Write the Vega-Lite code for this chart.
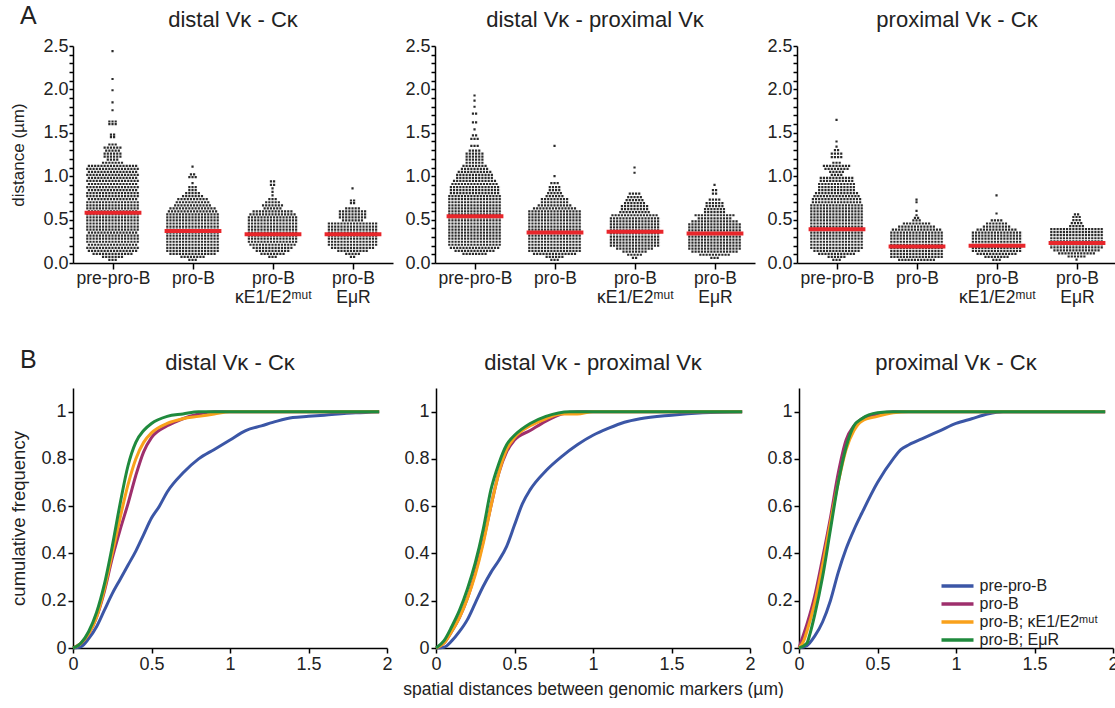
{
  "$schema": "https://vega.github.io/schema/vega-lite/v6.json",
  "padding": {"left": 9, "top": 4, "right": 0, "bottom": 0},
  "config": {
    "font": "Liberation Sans",
    "view": {"stroke": null},
    "axis": {"grid": false, "domainColor": "#000", "tickColor": "#000", "labelColor": "#222", "titleColor": "#222", "titleFontWeight": "normal", "labelFlush": false, "labelOverlap": false, "domainWidth": 1.5, "tickWidth": 1.5},
    "title": {"fontWeight": "normal", "color": "#222", "fontSize": 22},
    "legend": {"padding": 0}
  },
  "datasets": {
    "s1": [
      {"g":1,"d":0.035,"n":3},{"g":1,"d":0.07,"n":7},{"g":1,"d":0.105,"n":13},{"g":1,"d":0.14,"n":16},{"g":1,"d":0.175,"n":17},{"g":1,"d":0.21,"n":16},{"g":1,"d":0.245,"n":17},{"g":1,"d":0.28,"n":17},{"g":1,"d":0.315,"n":17},{"g":1,"d":0.35,"n":16},{"g":1,"d":0.385,"n":17},{"g":1,"d":0.42,"n":17},{"g":1,"d":0.455,"n":17},{"g":1,"d":0.49,"n":17},{"g":1,"d":0.525,"n":17},{"g":1,"d":0.56,"n":17},{"g":1,"d":0.595,"n":16},{"g":1,"d":0.63,"n":17},{"g":1,"d":0.665,"n":17},{"g":1,"d":0.7,"n":17},{"g":1,"d":0.735,"n":16},{"g":1,"d":0.77,"n":17},{"g":1,"d":0.805,"n":17},{"g":1,"d":0.84,"n":16},{"g":1,"d":0.875,"n":17},{"g":1,"d":0.91,"n":16},{"g":1,"d":0.945,"n":17},{"g":1,"d":0.98,"n":16},{"g":1,"d":1.015,"n":17},{"g":1,"d":1.05,"n":16},{"g":1,"d":1.085,"n":17},{"g":1,"d":1.12,"n":16},{"g":1,"d":1.155,"n":7},{"g":1,"d":1.19,"n":4},{"g":1,"d":1.225,"n":6},{"g":1,"d":1.26,"n":6},{"g":1,"d":1.295,"n":5},{"g":1,"d":1.33,"n":6},{"g":1,"d":1.365,"n":3},{"g":1,"d":1.45,"n":2},{"g":1,"d":1.48,"n":2},{"g":1,"d":1.6,"n":3},{"g":1,"d":1.63,"n":3},{"g":1,"d":1.76,"n":1},{"g":1,"d":1.85,"n":1},{"g":1,"d":1.99,"n":1},{"g":1,"d":2.12,"n":1},{"g":1,"d":2.44,"n":1},
      {"g":2,"d":0.035,"n":3},{"g":2,"d":0.07,"n":8},{"g":2,"d":0.105,"n":15},{"g":2,"d":0.14,"n":17},{"g":2,"d":0.175,"n":17},{"g":2,"d":0.21,"n":17},{"g":2,"d":0.245,"n":17},{"g":2,"d":0.28,"n":17},{"g":2,"d":0.315,"n":17},{"g":2,"d":0.35,"n":17},{"g":2,"d":0.385,"n":17},{"g":2,"d":0.42,"n":17},{"g":2,"d":0.455,"n":17},{"g":2,"d":0.49,"n":17},{"g":2,"d":0.525,"n":17},{"g":2,"d":0.56,"n":17},{"g":2,"d":0.595,"n":16},{"g":2,"d":0.63,"n":15},{"g":2,"d":0.665,"n":12},{"g":2,"d":0.7,"n":11},{"g":2,"d":0.735,"n":10},{"g":2,"d":0.77,"n":7},{"g":2,"d":0.805,"n":5},{"g":2,"d":0.84,"n":3},{"g":2,"d":0.875,"n":3},{"g":2,"d":0.92,"n":1},{"g":2,"d":0.99,"n":3},{"g":2,"d":1.02,"n":2},{"g":2,"d":1.11,"n":1},
      {"g":3,"d":0.07,"n":3},{"g":3,"d":0.105,"n":8},{"g":3,"d":0.14,"n":11},{"g":3,"d":0.175,"n":13},{"g":3,"d":0.21,"n":15},{"g":3,"d":0.245,"n":16},{"g":3,"d":0.28,"n":16},{"g":3,"d":0.315,"n":16},{"g":3,"d":0.35,"n":16},{"g":3,"d":0.385,"n":16},{"g":3,"d":0.42,"n":16},{"g":3,"d":0.455,"n":16},{"g":3,"d":0.49,"n":16},{"g":3,"d":0.525,"n":16},{"g":3,"d":0.56,"n":15},{"g":3,"d":0.595,"n":13},{"g":3,"d":0.63,"n":6},{"g":3,"d":0.665,"n":7},{"g":3,"d":0.7,"n":5},{"g":3,"d":0.735,"n":3},{"g":3,"d":0.78,"n":1},{"g":3,"d":0.82,"n":1},{"g":3,"d":0.86,"n":1},{"g":3,"d":0.9,"n":2},{"g":3,"d":0.94,"n":2},
      {"g":4,"d":0.07,"n":2},{"g":4,"d":0.105,"n":5},{"g":4,"d":0.14,"n":10},{"g":4,"d":0.175,"n":14},{"g":4,"d":0.21,"n":16},{"g":4,"d":0.245,"n":16},{"g":4,"d":0.28,"n":16},{"g":4,"d":0.315,"n":16},{"g":4,"d":0.35,"n":16},{"g":4,"d":0.385,"n":16},{"g":4,"d":0.42,"n":16},{"g":4,"d":0.455,"n":16},{"g":4,"d":0.49,"n":7},{"g":4,"d":0.525,"n":9},{"g":4,"d":0.56,"n":9},{"g":4,"d":0.595,"n":9},{"g":4,"d":0.63,"n":5},{"g":4,"d":0.69,"n":2},{"g":4,"d":0.72,"n":2},{"g":4,"d":0.86,"n":1}
    ],
    "s2": [
      {"g":1,"d":0.105,"n":8},{"g":1,"d":0.14,"n":13},{"g":1,"d":0.175,"n":16},{"g":1,"d":0.21,"n":17},{"g":1,"d":0.245,"n":17},{"g":1,"d":0.28,"n":17},{"g":1,"d":0.315,"n":17},{"g":1,"d":0.35,"n":17},{"g":1,"d":0.385,"n":17},{"g":1,"d":0.42,"n":17},{"g":1,"d":0.455,"n":17},{"g":1,"d":0.49,"n":17},{"g":1,"d":0.525,"n":17},{"g":1,"d":0.56,"n":17},{"g":1,"d":0.595,"n":17},{"g":1,"d":0.63,"n":17},{"g":1,"d":0.665,"n":17},{"g":1,"d":0.7,"n":17},{"g":1,"d":0.735,"n":17},{"g":1,"d":0.77,"n":17},{"g":1,"d":0.805,"n":16},{"g":1,"d":0.84,"n":16},{"g":1,"d":0.875,"n":16},{"g":1,"d":0.91,"n":15},{"g":1,"d":0.945,"n":14},{"g":1,"d":0.98,"n":12},{"g":1,"d":1.015,"n":12},{"g":1,"d":1.05,"n":11},{"g":1,"d":1.085,"n":9},{"g":1,"d":1.12,"n":8},{"g":1,"d":1.155,"n":6},{"g":1,"d":1.19,"n":6},{"g":1,"d":1.225,"n":6},{"g":1,"d":1.26,"n":6},{"g":1,"d":1.295,"n":4},{"g":1,"d":1.35,"n":3},{"g":1,"d":1.43,"n":3},{"g":1,"d":1.47,"n":2},{"g":1,"d":1.54,"n":1},{"g":1,"d":1.62,"n":2},{"g":1,"d":1.72,"n":2},{"g":1,"d":1.8,"n":1},{"g":1,"d":1.87,"n":1},{"g":1,"d":1.93,"n":1},
      {"g":2,"d":0.035,"n":3},{"g":2,"d":0.07,"n":6},{"g":2,"d":0.105,"n":14},{"g":2,"d":0.14,"n":17},{"g":2,"d":0.175,"n":17},{"g":2,"d":0.21,"n":17},{"g":2,"d":0.245,"n":17},{"g":2,"d":0.28,"n":17},{"g":2,"d":0.315,"n":17},{"g":2,"d":0.35,"n":17},{"g":2,"d":0.385,"n":17},{"g":2,"d":0.42,"n":17},{"g":2,"d":0.455,"n":17},{"g":2,"d":0.49,"n":17},{"g":2,"d":0.525,"n":17},{"g":2,"d":0.56,"n":17},{"g":2,"d":0.595,"n":17},{"g":2,"d":0.63,"n":14},{"g":2,"d":0.665,"n":11},{"g":2,"d":0.7,"n":9},{"g":2,"d":0.735,"n":9},{"g":2,"d":0.77,"n":6},{"g":2,"d":0.805,"n":5},{"g":2,"d":0.84,"n":4},{"g":2,"d":0.875,"n":4},{"g":2,"d":0.92,"n":3},{"g":2,"d":1.0,"n":1},{"g":2,"d":1.35,"n":1},
      {"g":3,"d":0.06,"n":2},{"g":3,"d":0.095,"n":5},{"g":3,"d":0.13,"n":8},{"g":3,"d":0.165,"n":12},{"g":3,"d":0.2,"n":16},{"g":3,"d":0.235,"n":16},{"g":3,"d":0.27,"n":16},{"g":3,"d":0.305,"n":16},{"g":3,"d":0.34,"n":16},{"g":3,"d":0.375,"n":16},{"g":3,"d":0.41,"n":16},{"g":3,"d":0.445,"n":16},{"g":3,"d":0.48,"n":16},{"g":3,"d":0.515,"n":16},{"g":3,"d":0.55,"n":15},{"g":3,"d":0.585,"n":10},{"g":3,"d":0.62,"n":9},{"g":3,"d":0.655,"n":9},{"g":3,"d":0.69,"n":7},{"g":3,"d":0.725,"n":6},{"g":3,"d":0.76,"n":5},{"g":3,"d":0.8,"n":4},{"g":3,"d":1.04,"n":1},{"g":3,"d":1.1,"n":1},
      {"g":4,"d":0.06,"n":3},{"g":4,"d":0.095,"n":10},{"g":4,"d":0.13,"n":15},{"g":4,"d":0.165,"n":17},{"g":4,"d":0.2,"n":17},{"g":4,"d":0.235,"n":17},{"g":4,"d":0.27,"n":17},{"g":4,"d":0.305,"n":17},{"g":4,"d":0.34,"n":17},{"g":4,"d":0.375,"n":17},{"g":4,"d":0.41,"n":17},{"g":4,"d":0.445,"n":17},{"g":4,"d":0.48,"n":15},{"g":4,"d":0.515,"n":11},{"g":4,"d":0.55,"n":13},{"g":4,"d":0.585,"n":7},{"g":4,"d":0.62,"n":7},{"g":4,"d":0.655,"n":6},{"g":4,"d":0.69,"n":6},{"g":4,"d":0.73,"n":4},{"g":4,"d":0.8,"n":2},{"g":4,"d":0.84,"n":2},{"g":4,"d":0.9,"n":1}
    ],
    "s3": [
      {"g":1,"d":0.035,"n":3},{"g":1,"d":0.07,"n":6},{"g":1,"d":0.105,"n":12},{"g":1,"d":0.14,"n":15},{"g":1,"d":0.175,"n":17},{"g":1,"d":0.21,"n":17},{"g":1,"d":0.245,"n":17},{"g":1,"d":0.28,"n":17},{"g":1,"d":0.315,"n":17},{"g":1,"d":0.35,"n":17},{"g":1,"d":0.385,"n":17},{"g":1,"d":0.42,"n":17},{"g":1,"d":0.455,"n":17},{"g":1,"d":0.49,"n":17},{"g":1,"d":0.525,"n":17},{"g":1,"d":0.56,"n":17},{"g":1,"d":0.595,"n":17},{"g":1,"d":0.63,"n":17},{"g":1,"d":0.665,"n":17},{"g":1,"d":0.7,"n":16},{"g":1,"d":0.735,"n":16},{"g":1,"d":0.77,"n":15},{"g":1,"d":0.805,"n":14},{"g":1,"d":0.84,"n":12},{"g":1,"d":0.875,"n":12},{"g":1,"d":0.91,"n":12},{"g":1,"d":0.945,"n":11},{"g":1,"d":0.98,"n":11},{"g":1,"d":1.015,"n":4},{"g":1,"d":1.05,"n":5},{"g":1,"d":1.085,"n":8},{"g":1,"d":1.12,"n":9},{"g":1,"d":1.155,"n":3},{"g":1,"d":1.22,"n":4},{"g":1,"d":1.26,"n":4},{"g":1,"d":1.3,"n":2},{"g":1,"d":1.34,"n":1},{"g":1,"d":1.4,"n":1},{"g":1,"d":1.65,"n":1},
      {"g":2,"d":0.035,"n":12},{"g":2,"d":0.07,"n":17},{"g":2,"d":0.105,"n":17},{"g":2,"d":0.14,"n":17},{"g":2,"d":0.175,"n":17},{"g":2,"d":0.21,"n":17},{"g":2,"d":0.245,"n":17},{"g":2,"d":0.28,"n":17},{"g":2,"d":0.315,"n":17},{"g":2,"d":0.35,"n":17},{"g":2,"d":0.385,"n":16},{"g":2,"d":0.42,"n":12},{"g":2,"d":0.455,"n":9},{"g":2,"d":0.49,"n":3},{"g":2,"d":0.52,"n":2},{"g":2,"d":0.55,"n":1},{"g":2,"d":0.6,"n":1},{"g":2,"d":0.7,"n":1},{"g":2,"d":0.73,"n":1},
      {"g":3,"d":0.035,"n":3},{"g":3,"d":0.07,"n":8},{"g":3,"d":0.105,"n":13},{"g":3,"d":0.14,"n":16},{"g":3,"d":0.175,"n":16},{"g":3,"d":0.21,"n":16},{"g":3,"d":0.245,"n":16},{"g":3,"d":0.28,"n":16},{"g":3,"d":0.315,"n":16},{"g":3,"d":0.35,"n":16},{"g":3,"d":0.385,"n":13},{"g":3,"d":0.42,"n":9},{"g":3,"d":0.455,"n":7},{"g":3,"d":0.49,"n":4},{"g":3,"d":0.57,"n":1},{"g":3,"d":0.78,"n":1},
      {"g":4,"d":0.04,"n":1},{"g":4,"d":0.075,"n":6},{"g":4,"d":0.11,"n":12},{"g":4,"d":0.145,"n":15},{"g":4,"d":0.18,"n":17},{"g":4,"d":0.215,"n":17},{"g":4,"d":0.25,"n":17},{"g":4,"d":0.285,"n":17},{"g":4,"d":0.32,"n":17},{"g":4,"d":0.355,"n":17},{"g":4,"d":0.39,"n":17},{"g":4,"d":0.425,"n":5},{"g":4,"d":0.46,"n":4},{"g":4,"d":0.495,"n":3},{"g":4,"d":0.53,"n":3},{"g":4,"d":0.56,"n":2}
    ],
    "m1": [{"g":1,"d":0.58},{"g":2,"d":0.37},{"g":3,"d":0.33},{"g":4,"d":0.33}],
    "m2": [{"g":1,"d":0.54},{"g":2,"d":0.35},{"g":3,"d":0.36},{"g":4,"d":0.34}],
    "m3": [{"g":1,"d":0.39},{"g":2,"d":0.19},{"g":3,"d":0.2},{"g":4,"d":0.23}],
    "c1": [
      {"s":"a","x":0,"y":0},{"s":"a","x":0.05,"y":0.005},{"s":"a","x":0.1,"y":0.04},{"s":"a","x":0.15,"y":0.09},{"s":"a","x":0.2,"y":0.16},{"s":"a","x":0.25,"y":0.23},{"s":"a","x":0.3,"y":0.29},{"s":"a","x":0.35,"y":0.35},{"s":"a","x":0.4,"y":0.41},{"s":"a","x":0.45,"y":0.48},{"s":"a","x":0.5,"y":0.55},{"s":"a","x":0.55,"y":0.6},{"s":"a","x":0.6,"y":0.66},{"s":"a","x":0.7,"y":0.74},{"s":"a","x":0.8,"y":0.8},{"s":"a","x":0.9,"y":0.84},{"s":"a","x":1.0,"y":0.88},{"s":"a","x":1.1,"y":0.92},{"s":"a","x":1.2,"y":0.94},{"s":"a","x":1.3,"y":0.96},{"s":"a","x":1.4,"y":0.975},{"s":"a","x":1.5,"y":0.98},{"s":"a","x":1.6,"y":0.985},{"s":"a","x":1.8,"y":0.995},{"s":"a","x":1.95,"y":1.0},
      {"s":"b","x":0,"y":0},{"s":"b","x":0.05,"y":0.02},{"s":"b","x":0.1,"y":0.06},{"s":"b","x":0.15,"y":0.13},{"s":"b","x":0.2,"y":0.24},{"s":"b","x":0.25,"y":0.38},{"s":"b","x":0.3,"y":0.5},{"s":"b","x":0.35,"y":0.61},{"s":"b","x":0.4,"y":0.73},{"s":"b","x":0.45,"y":0.83},{"s":"b","x":0.5,"y":0.89},{"s":"b","x":0.6,"y":0.94},{"s":"b","x":0.7,"y":0.97},{"s":"b","x":0.8,"y":0.99},{"s":"b","x":0.9,"y":1.0},{"s":"b","x":1.95,"y":1.0},
      {"s":"c","x":0,"y":0},{"s":"c","x":0.05,"y":0.02},{"s":"c","x":0.1,"y":0.06},{"s":"c","x":0.15,"y":0.13},{"s":"c","x":0.2,"y":0.25},{"s":"c","x":0.25,"y":0.4},{"s":"c","x":0.3,"y":0.55},{"s":"c","x":0.35,"y":0.69},{"s":"c","x":0.4,"y":0.8},{"s":"c","x":0.45,"y":0.87},{"s":"c","x":0.5,"y":0.91},{"s":"c","x":0.6,"y":0.95},{"s":"c","x":0.7,"y":0.97},{"s":"c","x":0.8,"y":0.98},{"s":"c","x":0.9,"y":0.99},{"s":"c","x":1.0,"y":1.0},{"s":"c","x":1.95,"y":1.0},
      {"s":"d","x":0,"y":0},{"s":"d","x":0.05,"y":0.02},{"s":"d","x":0.1,"y":0.07},{"s":"d","x":0.15,"y":0.15},{"s":"d","x":0.2,"y":0.27},{"s":"d","x":0.25,"y":0.43},{"s":"d","x":0.3,"y":0.61},{"s":"d","x":0.35,"y":0.77},{"s":"d","x":0.4,"y":0.87},{"s":"d","x":0.45,"y":0.92},{"s":"d","x":0.5,"y":0.95},{"s":"d","x":0.6,"y":0.98},{"s":"d","x":0.7,"y":0.99},{"s":"d","x":0.8,"y":1.0},{"s":"d","x":1.95,"y":1.0}
    ],
    "c2": [
      {"s":"a","x":0,"y":0},{"s":"a","x":0.05,"y":0.003},{"s":"a","x":0.1,"y":0.03},{"s":"a","x":0.15,"y":0.07},{"s":"a","x":0.2,"y":0.12},{"s":"a","x":0.25,"y":0.19},{"s":"a","x":0.3,"y":0.26},{"s":"a","x":0.35,"y":0.32},{"s":"a","x":0.4,"y":0.37},{"s":"a","x":0.45,"y":0.43},{"s":"a","x":0.5,"y":0.52},{"s":"a","x":0.55,"y":0.61},{"s":"a","x":0.6,"y":0.67},{"s":"a","x":0.7,"y":0.75},{"s":"a","x":0.8,"y":0.81},{"s":"a","x":0.9,"y":0.86},{"s":"a","x":1.0,"y":0.9},{"s":"a","x":1.1,"y":0.93},{"s":"a","x":1.2,"y":0.955},{"s":"a","x":1.3,"y":0.97},{"s":"a","x":1.5,"y":0.985},{"s":"a","x":1.7,"y":0.995},{"s":"a","x":1.95,"y":1.0},
      {"s":"b","x":0,"y":0},{"s":"b","x":0.05,"y":0.02},{"s":"b","x":0.1,"y":0.07},{"s":"b","x":0.15,"y":0.13},{"s":"b","x":0.2,"y":0.21},{"s":"b","x":0.25,"y":0.32},{"s":"b","x":0.3,"y":0.45},{"s":"b","x":0.35,"y":0.6},{"s":"b","x":0.4,"y":0.74},{"s":"b","x":0.45,"y":0.83},{"s":"b","x":0.5,"y":0.88},{"s":"b","x":0.6,"y":0.92},{"s":"b","x":0.7,"y":0.96},{"s":"b","x":0.8,"y":0.99},{"s":"b","x":0.9,"y":1.0},{"s":"b","x":1.95,"y":1.0},
      {"s":"c","x":0,"y":0},{"s":"c","x":0.05,"y":0.02},{"s":"c","x":0.1,"y":0.07},{"s":"c","x":0.15,"y":0.13},{"s":"c","x":0.2,"y":0.21},{"s":"c","x":0.25,"y":0.31},{"s":"c","x":0.3,"y":0.44},{"s":"c","x":0.35,"y":0.6},{"s":"c","x":0.4,"y":0.74},{"s":"c","x":0.45,"y":0.84},{"s":"c","x":0.5,"y":0.89},{"s":"c","x":0.6,"y":0.94},{"s":"c","x":0.7,"y":0.97},{"s":"c","x":0.8,"y":0.99},{"s":"c","x":0.9,"y":0.99},{"s":"c","x":1.0,"y":1.0},{"s":"c","x":1.95,"y":1.0},
      {"s":"d","x":0,"y":0},{"s":"d","x":0.05,"y":0.03},{"s":"d","x":0.1,"y":0.09},{"s":"d","x":0.15,"y":0.16},{"s":"d","x":0.2,"y":0.25},{"s":"d","x":0.25,"y":0.36},{"s":"d","x":0.3,"y":0.5},{"s":"d","x":0.35,"y":0.67},{"s":"d","x":0.4,"y":0.78},{"s":"d","x":0.45,"y":0.86},{"s":"d","x":0.5,"y":0.9},{"s":"d","x":0.6,"y":0.95},{"s":"d","x":0.7,"y":0.98},{"s":"d","x":0.85,"y":1.0},{"s":"d","x":1.95,"y":1.0}
    ],
    "c3": [
      {"s":"a","x":0,"y":0},{"s":"a","x":0.05,"y":0.01},{"s":"a","x":0.1,"y":0.05},{"s":"a","x":0.15,"y":0.11},{"s":"a","x":0.2,"y":0.2},{"s":"a","x":0.25,"y":0.32},{"s":"a","x":0.3,"y":0.42},{"s":"a","x":0.35,"y":0.5},{"s":"a","x":0.4,"y":0.57},{"s":"a","x":0.5,"y":0.7},{"s":"a","x":0.6,"y":0.8},{"s":"a","x":0.65,"y":0.84},{"s":"a","x":0.7,"y":0.86},{"s":"a","x":0.8,"y":0.89},{"s":"a","x":0.9,"y":0.92},{"s":"a","x":1.0,"y":0.95},{"s":"a","x":1.1,"y":0.97},{"s":"a","x":1.2,"y":0.99},{"s":"a","x":1.3,"y":1.0},{"s":"a","x":1.95,"y":1.0},
      {"s":"b","x":0,"y":0},{"s":"b","x":0.02,"y":0.04},{"s":"b","x":0.05,"y":0.1},{"s":"b","x":0.1,"y":0.22},{"s":"b","x":0.15,"y":0.38},{"s":"b","x":0.2,"y":0.55},{"s":"b","x":0.25,"y":0.74},{"s":"b","x":0.3,"y":0.88},{"s":"b","x":0.35,"y":0.94},{"s":"b","x":0.4,"y":0.97},{"s":"b","x":0.5,"y":0.99},{"s":"b","x":0.6,"y":1.0},{"s":"b","x":1.95,"y":1.0},
      {"s":"c","x":0,"y":0},{"s":"c","x":0.03,"y":0.03},{"s":"c","x":0.05,"y":0.07},{"s":"c","x":0.1,"y":0.19},{"s":"c","x":0.15,"y":0.35},{"s":"c","x":0.2,"y":0.53},{"s":"c","x":0.25,"y":0.7},{"s":"c","x":0.3,"y":0.84},{"s":"c","x":0.35,"y":0.92},{"s":"c","x":0.4,"y":0.96},{"s":"c","x":0.5,"y":0.98},{"s":"c","x":0.6,"y":0.995},{"s":"c","x":0.7,"y":1.0},{"s":"c","x":1.95,"y":1.0},
      {"s":"d","x":0,"y":0},{"s":"d","x":0.05,"y":0.02},{"s":"d","x":0.07,"y":0.06},{"s":"d","x":0.1,"y":0.14},{"s":"d","x":0.15,"y":0.3},{"s":"d","x":0.2,"y":0.5},{"s":"d","x":0.25,"y":0.7},{"s":"d","x":0.3,"y":0.85},{"s":"d","x":0.35,"y":0.94},{"s":"d","x":0.4,"y":0.97},{"s":"d","x":0.5,"y":0.995},{"s":"d","x":0.6,"y":1.0},{"s":"d","x":1.95,"y":1.0}
    ]
  },
  "spacing": 42,
  "vconcat": [
    {
      "title": {"text": "A", "anchor": "start", "fontSize": 25, "offset": -20, "dx": 10},
      "bounds": "flush",
      "spacing": 42,
      "hconcat": [
        {
          "width": 320, "height": 217,
          "title": {"text": "distal Vκ - Cκ", "offset": 5},
          "encoding": {
            "x": {"field": "lo", "type": "quantitative", "scale": {"domain": [0.5, 4.5]},
              "axis": {"values": [1, 2, 3, 4], "title": null, "labelFontSize": 17.5, "tickSize": 6, "labelPadding": 0, "labelLineHeight": 19, "labelExpr": "split(['pre-pro-B','pro-B','pro-B|κE1/E2ᵐᵘᵗ','pro-B|EμR'][datum.value-1], '|')"}},
            "x2": {"field": "hi"},
            "y": {"field": "d", "type": "quantitative", "scale": {"domain": [0, 2.5]},
              "axis": {"title": "distance (µm)", "titleFontSize": 17, "titlePadding": 15, "labelFontSize": 18, "labelPadding": 1, "tickSize": 4, "labelOverlap": false,
                "values": [0,0.1,0.2,0.3,0.4,0.5,0.6,0.7,0.8,0.9,1,1.1,1.2,1.3,1.4,1.5,1.6,1.7,1.8,1.9,2,2.1,2.2,2.3,2.4,2.5],
                "labelExpr": "abs(datum.value*2 - round(datum.value*2)) < 0.001 ? format(datum.value, '.1f') : ''"}}
          },
          "layer": [
            {
              "data": {"name": "s1"},
              "transform": [{"calculate": "datum.g - datum.n*0.0197", "as": "lo"}, {"calculate": "datum.g + datum.n*0.0197", "as": "hi"}],
              "mark": {"type": "rule", "strokeDash": [2.2, 0.95], "strokeWidth": 2.2, "color": "#2a2a2a", "strokeCap": "butt"}
            },
            {
              "data": {"name": "m1"},
              "transform": [{"calculate": "datum.g - 0.355", "as": "lo"}, {"calculate": "datum.g + 0.355", "as": "hi"}],
              "mark": {"type": "rule", "strokeWidth": 4, "color": "#e8262b"}
            }
          ]
        },
        {
          "width": 320, "height": 217,
          "title": {"text": "distal Vκ - proximal Vκ", "offset": 5},
          "encoding": {
            "x": {"field": "lo", "type": "quantitative", "scale": {"domain": [0.5, 4.5]},
              "axis": {"values": [1, 2, 3, 4], "title": null, "labelFontSize": 17.5, "tickSize": 6, "labelPadding": 0, "labelLineHeight": 19, "labelExpr": "split(['pre-pro-B','pro-B','pro-B|κE1/E2ᵐᵘᵗ','pro-B|EμR'][datum.value-1], '|')"}},
            "x2": {"field": "hi"},
            "y": {"field": "d", "type": "quantitative", "scale": {"domain": [0, 2.5]},
              "axis": {"title": null, "labelFontSize": 18, "labelPadding": 1, "tickSize": 4, "labelOverlap": false,
                "values": [0,0.1,0.2,0.3,0.4,0.5,0.6,0.7,0.8,0.9,1,1.1,1.2,1.3,1.4,1.5,1.6,1.7,1.8,1.9,2,2.1,2.2,2.3,2.4,2.5],
                "labelExpr": "abs(datum.value*2 - round(datum.value*2)) < 0.001 ? format(datum.value, '.1f') : ''"}}
          },
          "layer": [
            {
              "data": {"name": "s2"},
              "transform": [{"calculate": "datum.g - datum.n*0.0197", "as": "lo"}, {"calculate": "datum.g + datum.n*0.0197", "as": "hi"}],
              "mark": {"type": "rule", "strokeDash": [2.2, 0.95], "strokeWidth": 2.2, "color": "#2a2a2a", "strokeCap": "butt"}
            },
            {
              "data": {"name": "m2"},
              "transform": [{"calculate": "datum.g - 0.355", "as": "lo"}, {"calculate": "datum.g + 0.355", "as": "hi"}],
              "mark": {"type": "rule", "strokeWidth": 4, "color": "#e8262b"}
            }
          ]
        },
        {
          "width": 320, "height": 217,
          "title": {"text": "proximal Vκ - Cκ", "offset": 5},
          "encoding": {
            "x": {"field": "lo", "type": "quantitative", "scale": {"domain": [0.5, 4.5]},
              "axis": {"values": [1, 2, 3, 4], "title": null, "labelFontSize": 17.5, "tickSize": 6, "labelPadding": 0, "labelLineHeight": 19, "labelExpr": "split(['pre-pro-B','pro-B','pro-B|κE1/E2ᵐᵘᵗ','pro-B|EμR'][datum.value-1], '|')"}},
            "x2": {"field": "hi"},
            "y": {"field": "d", "type": "quantitative", "scale": {"domain": [0, 2.5]},
              "axis": {"title": null, "labelFontSize": 18, "labelPadding": 1, "tickSize": 4, "labelOverlap": false,
                "values": [0,0.1,0.2,0.3,0.4,0.5,0.6,0.7,0.8,0.9,1,1.1,1.2,1.3,1.4,1.5,1.6,1.7,1.8,1.9,2,2.1,2.2,2.3,2.4,2.5],
                "labelExpr": "abs(datum.value*2 - round(datum.value*2)) < 0.001 ? format(datum.value, '.1f') : ''"}}
          },
          "layer": [
            {
              "data": {"name": "s3"},
              "transform": [{"calculate": "datum.g - datum.n*0.0197", "as": "lo"}, {"calculate": "datum.g + datum.n*0.0197", "as": "hi"}],
              "mark": {"type": "rule", "strokeDash": [2.2, 0.95], "strokeWidth": 2.2, "color": "#2a2a2a", "strokeCap": "butt"}
            },
            {
              "data": {"name": "m3"},
              "transform": [{"calculate": "datum.g - 0.355", "as": "lo"}, {"calculate": "datum.g + 0.355", "as": "hi"}],
              "mark": {"type": "rule", "strokeWidth": 4, "color": "#e8262b"}
            }
          ]
        }
      ]
    },
    {
      "title": {"text": "B", "anchor": "start", "fontSize": 25, "offset": -21, "dx": 10},
      "bounds": "flush",
      "spacing": 49,
      "resolve": {"scale": {"color": "independent"}, "legend": {"color": "independent"}},
      "hconcat": [
        {
          "width": 314, "height": 260,
          "title": {"text": "distal Vκ - Cκ", "offset": 13},
          "data": {"name": "c1"},
          "mark": {"type": "line", "interpolate": "monotone", "strokeWidth": 3},
          "encoding": {
            "x": {"field": "x", "type": "quantitative", "scale": {"domain": [0, 2]}, "axis": {"values": [0, 0.5, 1, 1.5, 2], "format": "~g", "title": null, "labelFontSize": 18, "tickSize": 5}},
            "y": {"field": "y", "type": "quantitative", "scale": {"domain": [0, 1.1]}, "axis": {"values": [0, 0.2, 0.4, 0.6, 0.8, 1], "format": "~g", "title": "cumulative frequency", "titleFontSize": 18.5, "titlePadding": 12, "labelFontSize": 18, "tickSize": 5, "labelPadding": 2}},
            "color": {"field": "s", "type": "nominal", "scale": {"domain": ["a", "b", "c", "d"], "range": ["#3b56a6", "#9e2f6c", "#f9a11b", "#1f8a3d"]}, "legend": null}
          }
        },
        {
          "width": 314, "height": 260,
          "title": {"text": "distal Vκ - proximal Vκ", "offset": 13},
          "data": {"name": "c2"},
          "mark": {"type": "line", "interpolate": "monotone", "strokeWidth": 3},
          "encoding": {
            "x": {"field": "x", "type": "quantitative", "scale": {"domain": [0, 2]}, "axis": {"values": [0, 0.5, 1, 1.5, 2], "format": "~g", "title": "spatial distances between genomic markers (µm)", "titleFontSize": 17.5, "titlePadding": 7, "labelFontSize": 18, "tickSize": 5}},
            "y": {"field": "y", "type": "quantitative", "scale": {"domain": [0, 1.1]}, "axis": {"values": [0, 0.2, 0.4, 0.6, 0.8, 1], "format": "~g", "title": null, "labelFontSize": 18, "tickSize": 5, "labelPadding": 2}},
            "color": {"field": "s", "type": "nominal", "scale": {"domain": ["a", "b", "c", "d"], "range": ["#3b56a6", "#9e2f6c", "#f9a11b", "#1f8a3d"]}, "legend": null}
          }
        },
        {
          "width": 314, "height": 260,
          "title": {"text": "proximal Vκ - Cκ", "offset": 13},
          "data": {"name": "c3"},
          "mark": {"type": "line", "interpolate": "monotone", "strokeWidth": 3},
          "encoding": {
            "x": {"field": "x", "type": "quantitative", "scale": {"domain": [0, 2]}, "axis": {"values": [0, 0.5, 1, 1.5, 2], "format": "~g", "title": null, "labelFontSize": 18, "tickSize": 5}},
            "y": {"field": "y", "type": "quantitative", "scale": {"domain": [0, 1.1]}, "axis": {"values": [0, 0.2, 0.4, 0.6, 0.8, 1], "format": "~g", "title": null, "labelFontSize": 18, "tickSize": 5, "labelPadding": 2}},
            "color": {"field": "s", "type": "nominal", "scale": {"domain": ["a", "b", "c", "d"], "range": ["#3b56a6", "#9e2f6c", "#f9a11b", "#1f8a3d"]},
              "legend": {"orient": "none", "legendX": 148.5, "legendY": 188, "title": null, "symbolType": "M-2,0H2", "symbolStrokeWidth": 3.5, "symbolSize": 256, "symbolFillColor": "transparent", "labelFontSize": 16, "labelColor": "#222", "labelOffset": 12, "rowPadding": -1,
                "labelExpr": "{'a':'pre-pro-B','b':'pro-B','c':'pro-B; κE1/E2ᵐᵘᵗ','d':'pro-B; EμR'}[datum.value]"}}
          }
        }
      ]
    }
  ]
}
